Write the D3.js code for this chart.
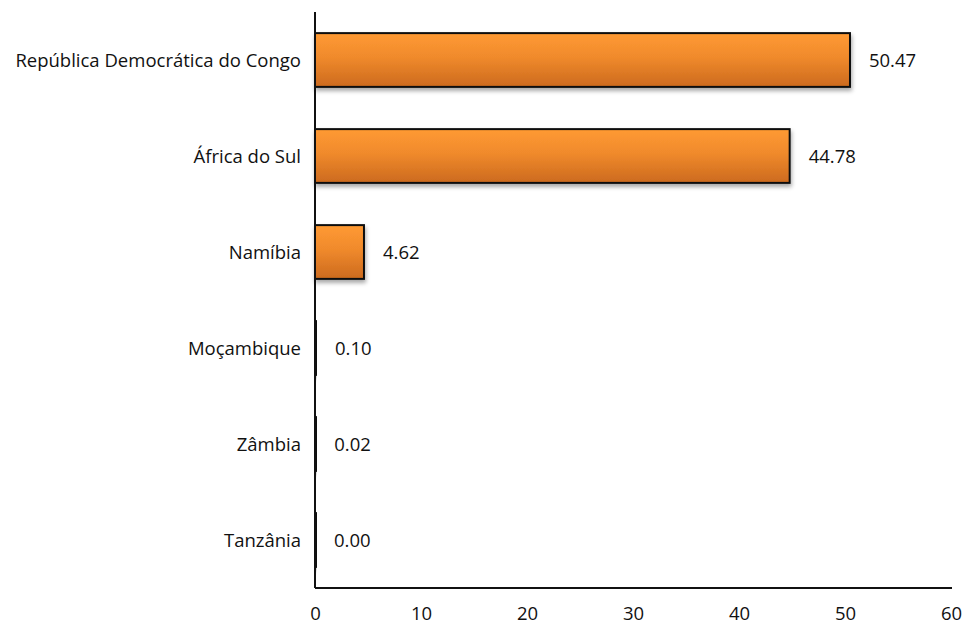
<!DOCTYPE html>
<html lang="pt">
<head>
<meta charset="utf-8">
<title>Chart</title>
<script src="https://d3js.org/d3.v7.min.js"></script>
<style>
  body { margin: 0; background: #fff; }
  text { font-family: "Open Sans", "Noto Sans", sans-serif; fill: #111; }
</style>
</head>
<body>
<div id="chart"></div>
<script>
  // data
  var countries = ["República Democrática do Congo", "África do Sul", "Namíbia", "Moçambique", "Zâmbia", "Tanzânia"];
  var values = [50.47, 44.78, 4.62, 0.10, 0.02, 0.00];
  var xTicks = [0, 10, 20, 30, 40, 50, 60];

  var W = 963, H = 625;
  var margin = {top: 12, right: 12, bottom: 37, left: 315},
      width = W - margin.left - margin.right,
      height = H - margin.top - margin.bottom;

  var svg = d3.select("#chart").append("svg")
      .attr("width", W).attr("height", H);

  var defs = svg.append("defs");
  var grad = defs.append("linearGradient")
      .attr("id", "barGrad").attr("x1", 0).attr("y1", 0).attr("x2", 0).attr("y2", 1);
  grad.append("stop").attr("offset", "0%").attr("stop-color", "#ff9a33");
  grad.append("stop").attr("offset", "45%").attr("stop-color", "#f08a2c");
  grad.append("stop").attr("offset", "100%").attr("stop-color", "#cc6a1e");

  var shadow = defs.append("filter").attr("id", "shadow")
      .attr("x", "-10%").attr("y", "-10%").attr("width", "130%").attr("height", "140%");
  shadow.append("feDropShadow")
      .attr("dx", 1).attr("dy", 3).attr("stdDeviation", 2)
      .attr("flood-color", "#000").attr("flood-opacity", 0.35);

  var g = svg.append("g")
      .attr("transform", "translate(" + margin.left + "," + margin.top + ")");

  var x = d3.scaleLinear().domain([0, 60]).range([0, width]);
  var y = d3.scaleBand().domain(countries).range([0, height]).paddingInner(0.44).paddingOuter(0.22);

  // bars (tiny values still get a visible outline, like the original)
  g.selectAll("rect.bar")
    .data(values)
    .enter().append("rect")
      .attr("class", "bar")
      .attr("x", 0)
      .attr("y", function(d, i) { return y(countries[i]); })
      .attr("width", function(d) { return Math.max(x(d), 1); })
      .attr("height", y.bandwidth())
      .attr("fill", "url(#barGrad)")
      .attr("stroke", "#111")
      .attr("stroke-width", 2)
      .attr("filter", "url(#shadow)");

  // value labels
  g.selectAll("text.val")
    .data(values)
    .enter().append("text")
      .attr("class", "val")
      .attr("x", function(d) { return x(d) + 19; })
      .attr("y", function(d, i) { return y(countries[i]) + y.bandwidth() / 2 + 1; })
      .attr("dy", "0.35em")
      .style("font-size", "18.5px")
      .text(function(d) { return d.toFixed(2); });

  // category labels
  g.selectAll("text.cat")
    .data(countries)
    .enter().append("text")
      .attr("class", "cat")
      .attr("x", -14)
      .attr("y", function(d) { return y(d) + y.bandwidth() / 2 + 1; })
      .attr("dy", "0.35em")
      .attr("text-anchor", "end")
      .style("font-size", "18.5px")
      .text(function(d) { return d; });

  // axes
  g.append("line")
    .attr("x1", 0).attr("x2", 0).attr("y1", 0).attr("y2", height)
    .attr("stroke", "#111").attr("stroke-width", 2);
  g.append("line")
    .attr("x1", 0).attr("x2", width + 1).attr("y1", height).attr("y2", height)
    .attr("stroke", "#111").attr("stroke-width", 2);

  var xAxis = g.append("g")
    .attr("transform", "translate(0," + height + ")")
    .call(d3.axisBottom(x).tickValues(xTicks).tickSize(0).tickPadding(19));
  xAxis.select(".domain").remove();
  xAxis.selectAll("text").style("font-size", "18.5px").style("font-family", "\"Open Sans\", sans-serif").attr("fill", "#111");
</script>
</body>
</html>
